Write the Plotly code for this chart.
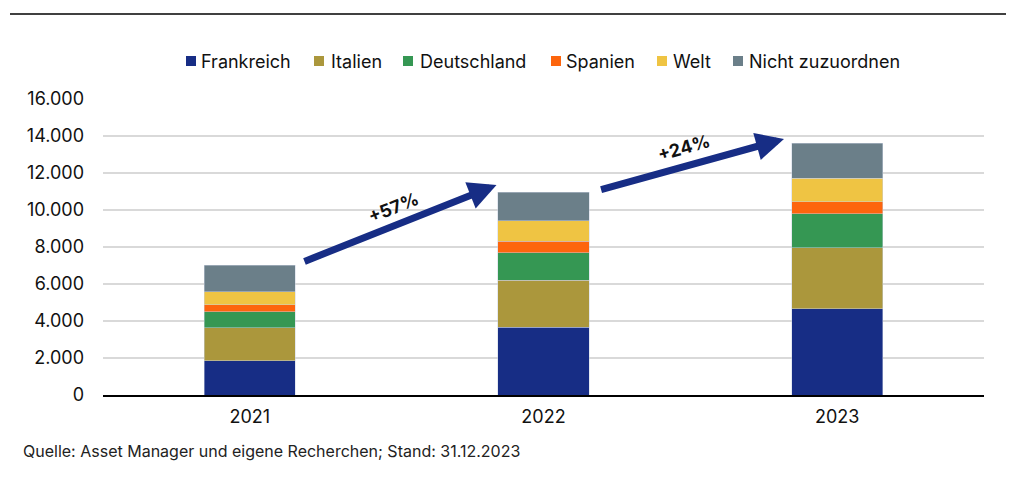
import plotly.graph_objects as go

years = ["2021", "2022", "2023"]
series_names = ["Frankreich", "Italien", "Deutschland", "Spanien", "Welt", "Nicht zuzuordnen"]
frankreich = [1850, 3660, 4660]
italien = [1790, 2540, 3300]
deutschland = [850, 1480, 1840]
spanien = [380, 630, 650]
welt = [700, 1100, 1260]
nicht_zuzuordnen = [1440, 1550, 1900]
growth_labels = ["+57%", "+24%"]
y_ticks = [0, 2000, 4000, 6000, 8000, 10000, 12000, 14000, 16000]
y_ticklabels = ["0", "2.000", "4.000", "6.000", "8.000", "10.000", "12.000", "14.000", "16.000"]
legend_labels = ["Frankreich", "Italien", "Deutschland", "Spanien", "Welt", "Nicht zuzuordnen"]
source_text = "Quelle: Asset Manager und eigene Recherchen; Stand: 31.12.2023"

series_values = [frankreich, italien, deutschland, spanien, welt, nicht_zuzuordnen]
colors = ["#172d85", "#ab973c", "#359753", "#fd650d", "#efc443", "#6b7f89"]

FONT = "Inter, Roboto, sans-serif"

# layout geometry (figure is drawn inside an 8px page margin)
W, H = 1006, 472
ML, MT, MR, MB = 95, 91, 30, 85
PW = W - ML - MR
PH = H - MT - MB
OFF = 8


def px(sx):
    return (sx - OFF - ML) / PW


def py(sy):
    return (H - MB + OFF - sy) / PH


fig = go.Figure()
for name, vals, col in zip(series_names, series_values, colors):
    fig.add_trace(go.Bar(
        x=years, y=vals, name=name, showlegend=False,
        marker=dict(color=col, line=dict(color="rgba(200,210,225,0.6)", width=0.8)),
    ))

# custom legend (square + label)
legend_square_x = [186, 314, 403, 551, 657, 733]
legend_text_x = [199, 329, 418, 564, 671, 747]
legend_y = 61
for lab, col, sqx, tx in zip(legend_labels, colors, legend_square_x, legend_text_x):
    fig.add_shape(type="rect", xref="paper", yref="paper",
                  x0=px(sqx), x1=px(sqx + 10), y0=py(legend_y + 5), y1=py(legend_y - 5),
                  fillcolor=col, line=dict(width=0))
    fig.add_annotation(x=px(tx), y=py(legend_y), xref="paper", yref="paper",
                       xanchor="left", yanchor="middle", text=lab, showarrow=False,
                       font=dict(family=FONT, size=18, color="#111111"))

# arrows (tail -> tip) in data coordinates
arrows = [
    dict(ax=0.181, ay=7190, x=0.840, y=11350),
    dict(ax=1.191, ay=11080, x=1.819, y=13840),
]
for a in arrows:
    fig.add_annotation(
        x=a["x"], y=a["y"], ax=a["ax"], ay=a["ay"],
        xref="x", yref="y", axref="x", ayref="y",
        text="", showarrow=True, arrowhead=2, arrowsize=0.8,
        arrowwidth=7, arrowcolor="#172d85", standoff=0,
    )

label_pos = [dict(x=0.488, y=10160, angle=-22), dict(x=1.478, y=13400, angle=-16)]
for lab, p in zip(growth_labels, label_pos):
    fig.add_annotation(
        x=p["x"], y=p["y"], xref="x", yref="y", text="<b>" + lab + "</b>",
        showarrow=False, textangle=p["angle"],
        font=dict(family=FONT, size=18, color="#111111"),
    )

fig.add_annotation(
    x=px(21), y=py(451), xref="paper", yref="paper", xanchor="left", yanchor="middle",
    text=source_text, showarrow=False, font=dict(family=FONT, size=16, color="#222222"),
)

fig.add_shape(type="line", xref="paper", yref="paper",
              x0=px(10), x1=px(1008), y0=py(14), y1=py(14),
              line=dict(color="black", width=1.5))

fig.update_layout(
    barmode="stack",
    bargap=0.69,
    width=W, height=H,
    margin=dict(l=ML, r=MR, t=MT, b=MB),
    paper_bgcolor="white", plot_bgcolor="white",
    font=dict(family=FONT, size=18, color="#111111"),
    showlegend=False,
)
fig.update_xaxes(showline=True, linecolor="black", linewidth=2, ticks="",
                 ticklabelstandoff=4, tickfont=dict(family=FONT, size=18))
fig.update_yaxes(range=[0, 16000], tickvals=y_ticks, ticktext=y_ticklabels,
                 showgrid=True, gridcolor="#d9d9d9", gridwidth=2, zeroline=False,
                 ticks="", ticklabelstandoff=18, tickfont=dict(family=FONT, size=18))

fig.write_html("out.html")
